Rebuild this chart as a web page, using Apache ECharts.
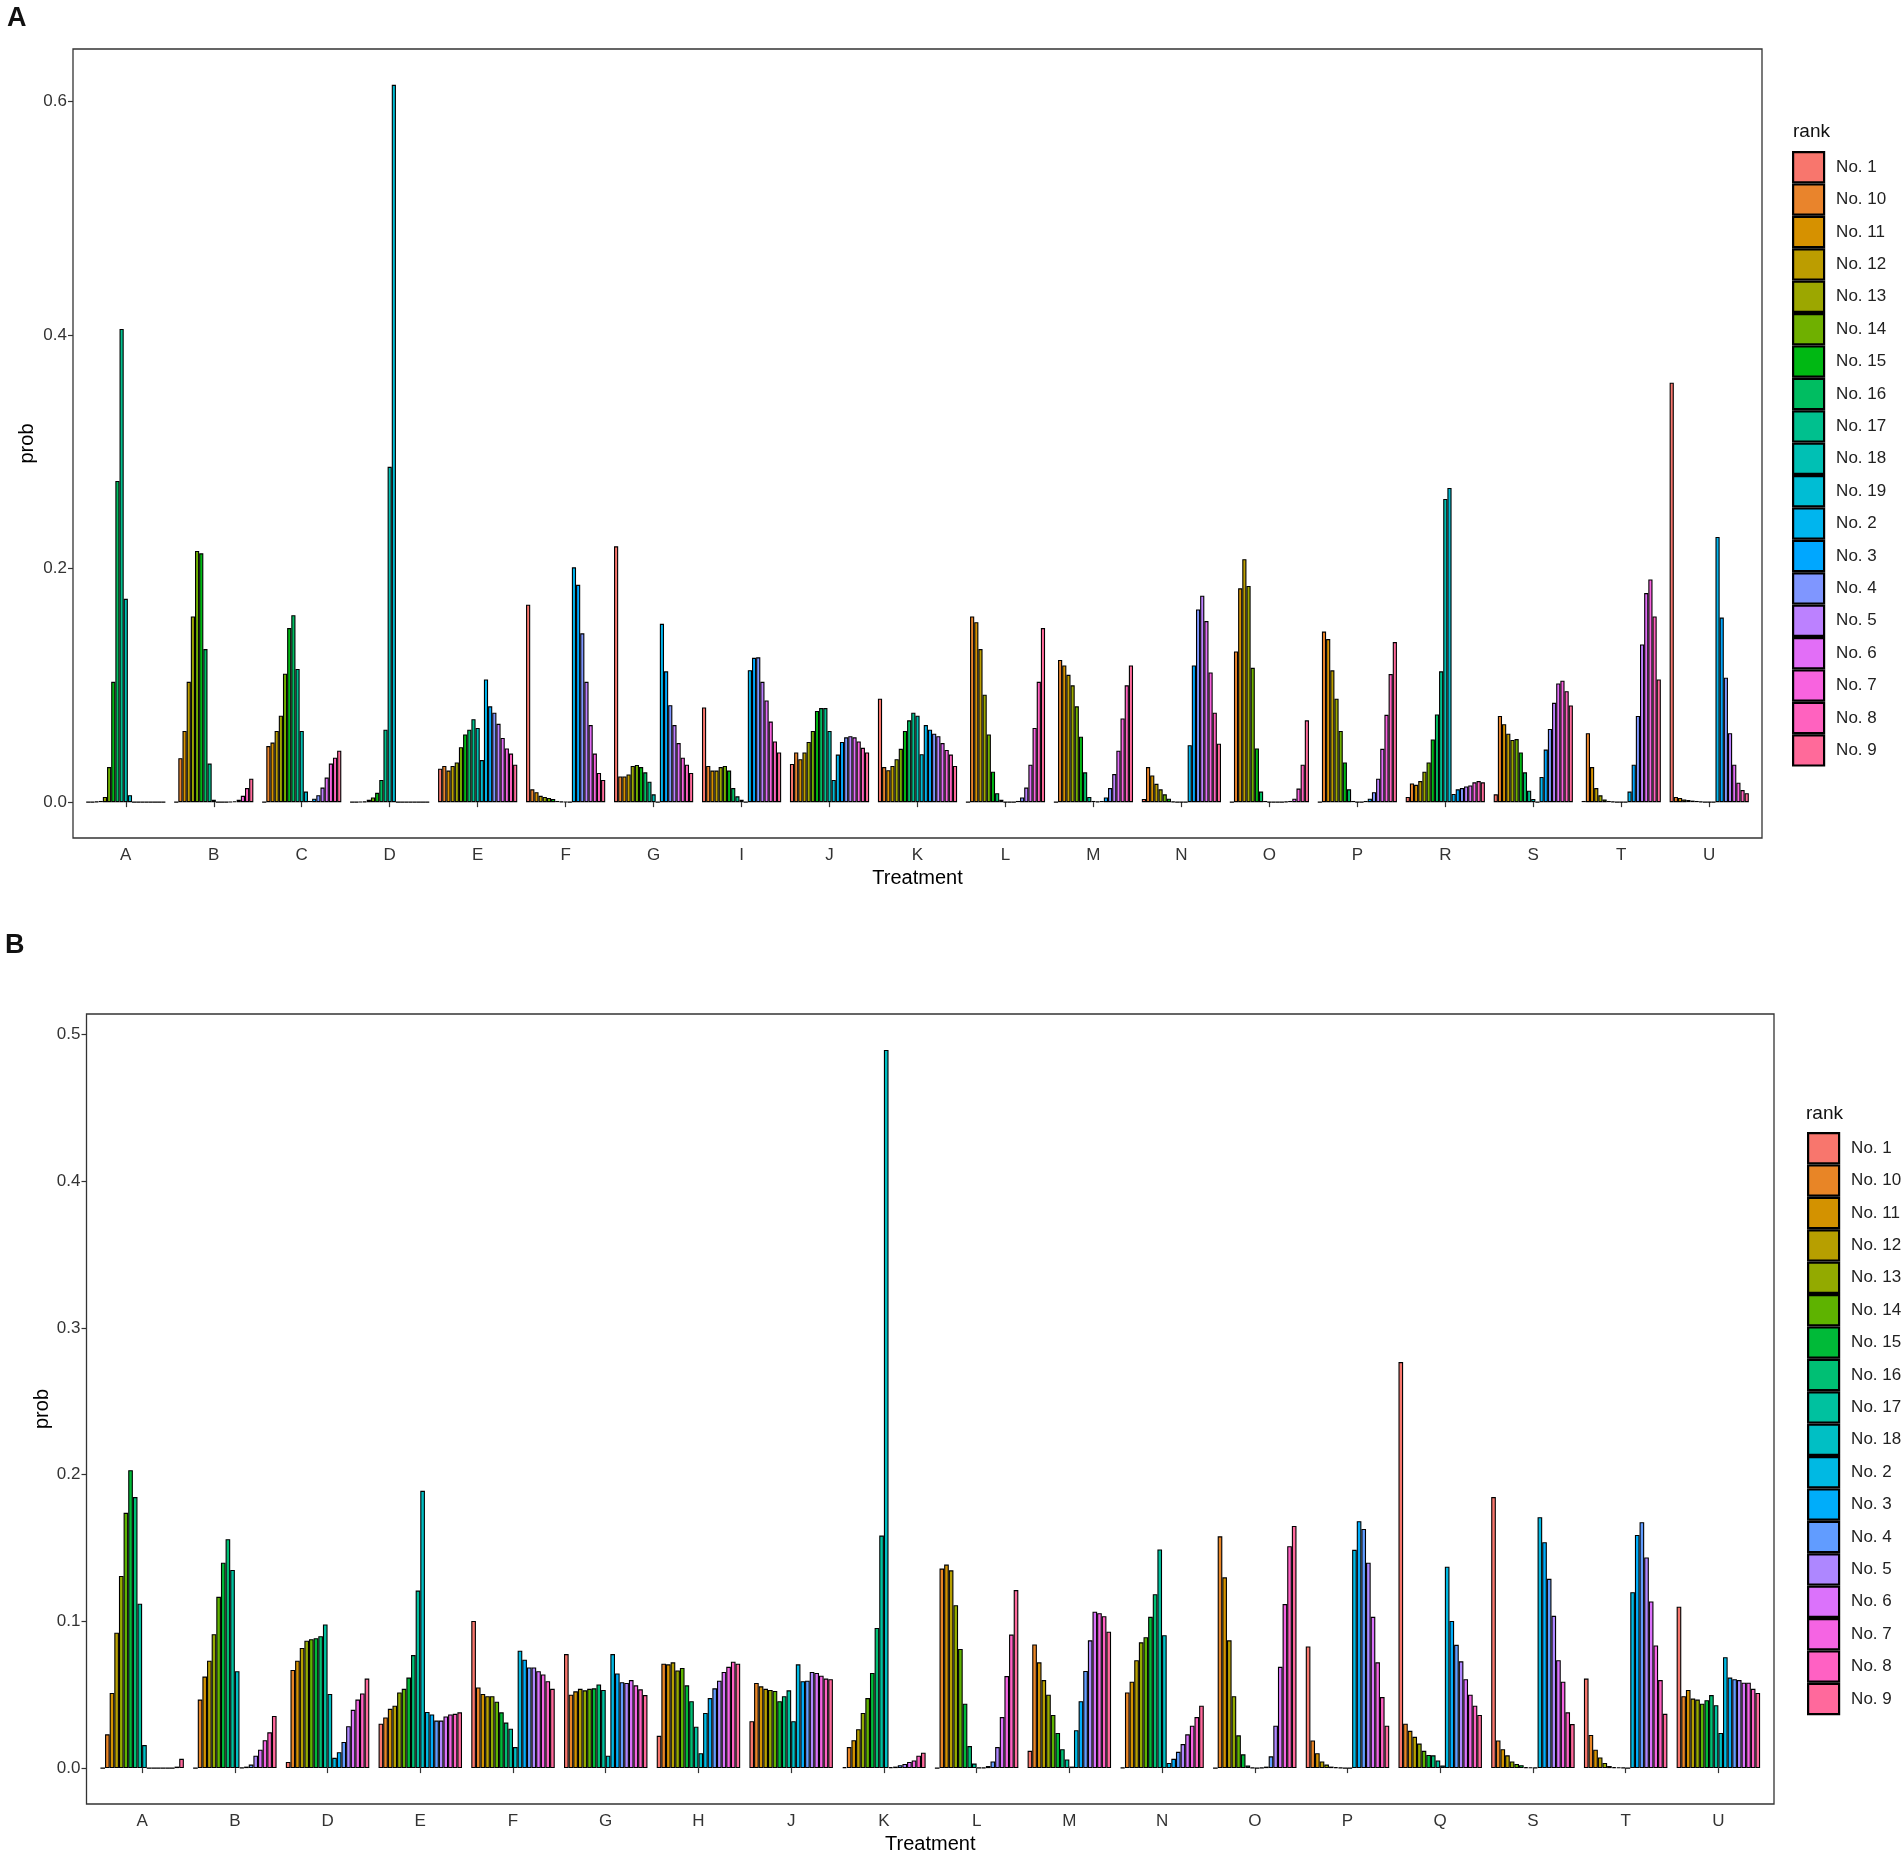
<!DOCTYPE html>
<html>
<head>
<meta charset="utf-8">
<title>Rank probabilities by treatment</title>
<script src="https://cdn.jsdelivr.net/npm/echarts@6/dist/echarts.min.js"></script>
<style>
  html, body { margin: 0; padding: 0; background: #fff; }
  #chart { width: 1902px; height: 1857px; }
</style>
</head>
<body>
<div id="chart"></div>
<script>
// rank levels, in the (alphabetical) order the factor uses
const ranksA = ['No. 1', 'No. 10', 'No. 11', 'No. 12', 'No. 13', 'No. 14', 'No. 15', 'No. 16', 'No. 17', 'No. 18', 'No. 19',
  'No. 2', 'No. 3', 'No. 4', 'No. 5', 'No. 6', 'No. 7', 'No. 8', 'No. 9'];
const ranksB = ['No. 1', 'No. 10', 'No. 11', 'No. 12', 'No. 13', 'No. 14', 'No. 15', 'No. 16', 'No. 17', 'No. 18',
  'No. 2', 'No. 3', 'No. 4', 'No. 5', 'No. 6', 'No. 7', 'No. 8', 'No. 9'];

const treatmentsA = ['A', 'B', 'C', 'D', 'E', 'F', 'G', 'I', 'J', 'K', 'L', 'M', 'N', 'O', 'P', 'R', 'S', 'T', 'U'];
const treatmentsB = ['A', 'B', 'D', 'E', 'F', 'G', 'H', 'J', 'K', 'L', 'M', 'N', 'O', 'P', 'Q', 'S', 'T', 'U'];

const ticksA = [0, 0.2, 0.4, 0.6];
const ticksB = [0, 0.1, 0.2, 0.3, 0.4, 0.5];

/* ------------------------- panel A : prob per rank ------------------------- */
const a_A = [0, 0, 0.0005, 0.001, 0.0045, 0.030, 0.103, 0.275, 0.405, 0.174, 0.006, 0, 0, 0, 0, 0, 0, 0, 0];
const a_B = [0, 0.0376, 0.061, 0.103, 0.159, 0.215, 0.213, 0.131, 0.033, 0.002, 0, 0, 0, 0.0003, 0.0007, 0.002, 0.0054, 0.012, 0.020];
const a_C = [0, 0.048, 0.051, 0.061, 0.074, 0.110, 0.149, 0.160, 0.114, 0.061, 0.009, 0.001, 0.003, 0.006, 0.0125, 0.021, 0.033, 0.038, 0.044];
const a_D = [0, 0, 0.0003, 0.0005, 0.002, 0.004, 0.008, 0.019, 0.062, 0.287, 0.614, 0, 0, 0, 0, 0, 0, 0, 0];
const a_E = [0.0286, 0.031, 0.027, 0.031, 0.034, 0.047, 0.058, 0.062, 0.071, 0.0635, 0.036, 0.105, 0.082, 0.0765, 0.067, 0.055, 0.046, 0.0416, 0.032];
const a_F = [0.169, 0.011, 0.0085, 0.0054, 0.0045, 0.0036, 0.0027, 0.001, 0.0005, 0.0003, 0, 0.201, 0.186, 0.1445, 0.103, 0.066, 0.0416, 0.025, 0.019];
const a_G = [0.219, 0.022, 0.022, 0.0237, 0.031, 0.0318, 0.030, 0.0255, 0.0175, 0.0067, 0, 0.1526, 0.112, 0.083, 0.066, 0.0506, 0.038, 0.032, 0.025];
const a_I = [0.081, 0.031, 0.027, 0.027, 0.030, 0.031, 0.027, 0.012, 0.005, 0.002, 0, 0.113, 0.1235, 0.124, 0.103, 0.087, 0.069, 0.052, 0.0425];
const a_J = [0.0327, 0.0425, 0.0367, 0.0425, 0.0515, 0.061, 0.078, 0.0805, 0.0805, 0.061, 0.019, 0.0407, 0.0515, 0.0555, 0.0564, 0.0555, 0.052, 0.0465, 0.0425];
const a_K = [0.0886, 0.030, 0.0273, 0.031, 0.0367, 0.0456, 0.061, 0.070, 0.0765, 0.074, 0.041, 0.066, 0.062, 0.0586, 0.0564, 0.0506, 0.0447, 0.0407, 0.031];
const a_L = [0, 0.159, 0.154, 0.131, 0.092, 0.058, 0.026, 0.0076, 0.002, 0, 0, 0, 0.001, 0.004, 0.0125, 0.032, 0.0635, 0.103, 0.149];
const a_M = [0, 0.1217, 0.117, 0.109, 0.100, 0.082, 0.056, 0.0255, 0.0045, 0.001, 0.0005, 0.001, 0.004, 0.012, 0.024, 0.044, 0.0716, 0.100, 0.117];
const a_N = [0.0027, 0.030, 0.0228, 0.0157, 0.011, 0.0067, 0.003, 0.0005, 0, 0, 0, 0.0488, 0.117, 0.165, 0.1767, 0.155, 0.111, 0.0765, 0.050];
const a_O = [0, 0.129, 0.183, 0.208, 0.185, 0.115, 0.046, 0.009, 0.001, 0, 0, 0, 0, 0.0005, 0.001, 0.003, 0.0116, 0.032, 0.070];
const a_P = [0, 0.146, 0.1396, 0.1128, 0.0886, 0.061, 0.034, 0.011, 0.001, 0, 0, 0.001, 0.003, 0.0085, 0.020, 0.0456, 0.0747, 0.1096, 0.137];
const a_R = [0.0045, 0.016, 0.0148, 0.018, 0.026, 0.034, 0.0537, 0.075, 0.112, 0.2595, 0.269, 0.007, 0.011, 0.012, 0.0134, 0.0143, 0.017, 0.018, 0.017];
const a_S = [0.0067, 0.0738, 0.0667, 0.0586, 0.0532, 0.054, 0.0425, 0.0255, 0.0098, 0.0027, 0, 0.0215, 0.045, 0.0626, 0.085, 0.1016, 0.104, 0.095, 0.0828];
const a_T = [0.001, 0.059, 0.030, 0.012, 0.0058, 0.0022, 0.001, 0.0005, 0, 0, 0, 0.009, 0.032, 0.0738, 0.135, 0.179, 0.1906, 0.159, 0.105];
const a_U = [0.359, 0.0045, 0.0036, 0.0022, 0.0018, 0.0013, 0.001, 0.0005, 0, 0, 0, 0.227, 0.158, 0.1065, 0.059, 0.032, 0.0166, 0.0103, 0.0076];

/* ------------------------- panel B : prob per rank ------------------------- */
const b_A = [0, 0.023, 0.0512, 0.0923, 0.131, 0.174, 0.203, 0.1847, 0.112, 0.0157, 0, 0, 0, 0, 0, 0, 0.001, 0.0063];
const b_B = [0, 0.0467, 0.0624, 0.0732, 0.0913, 0.1167, 0.140, 0.156, 0.135, 0.066, 0.0003, 0.001, 0.0024, 0.0084, 0.0125, 0.019, 0.0244, 0.0355];
const b_D = [0.0042, 0.0669, 0.0732, 0.0819, 0.0868, 0.0878, 0.0885, 0.0899, 0.0979, 0.0505, 0.007, 0.0108, 0.0178, 0.0286, 0.0397, 0.0467, 0.0509, 0.061];
const b_E = [0.0303, 0.0345, 0.0404, 0.0425, 0.0516, 0.054, 0.0617, 0.077, 0.121, 0.189, 0.0383, 0.0366, 0.0324, 0.0324, 0.0352, 0.0366, 0.037, 0.038];
const b_F = [0.1003, 0.055, 0.0505, 0.049, 0.049, 0.0453, 0.038, 0.031, 0.0268, 0.0143, 0.080, 0.0739, 0.0686, 0.0686, 0.066, 0.0638, 0.0592, 0.054];
const b_G = [0.0777, 0.050, 0.0523, 0.054, 0.053, 0.054, 0.0544, 0.057, 0.0533, 0.0084, 0.0777, 0.0645, 0.0585, 0.058, 0.060, 0.0564, 0.0537, 0.0498];
const b_H = [0.022, 0.0711, 0.0707, 0.0721, 0.0666, 0.0683, 0.0564, 0.0456, 0.0282, 0.0101, 0.0376, 0.0477, 0.0544, 0.0596, 0.0655, 0.069, 0.0725, 0.0711];
const b_J = [0.032, 0.058, 0.0557, 0.054, 0.0533, 0.0526, 0.0456, 0.049, 0.053, 0.032, 0.0707, 0.0592, 0.0596, 0.0655, 0.0648, 0.063, 0.061, 0.0606];
const b_K = [0.0007, 0.0143, 0.019, 0.0265, 0.0376, 0.0477, 0.0648, 0.0955, 0.1585, 0.4895, 0.0007, 0.001, 0.002, 0.0028, 0.0042, 0.0052, 0.0084, 0.0105];
const b_L = [0, 0.136, 0.1387, 0.1348, 0.111, 0.0812, 0.0439, 0.015, 0.0031, 0.0003, 0.0003, 0.0014, 0.0045, 0.0143, 0.0348, 0.0627, 0.091, 0.1213];
const b_M = [0.0118, 0.0843, 0.0721, 0.060, 0.050, 0.0362, 0.024, 0.0129, 0.0059, 0.001, 0.0258, 0.0456, 0.0662, 0.0871, 0.1066, 0.1056, 0.1035, 0.093];
const b_N = [0.0003, 0.0516, 0.0589, 0.0735, 0.0857, 0.0892, 0.1031, 0.1185, 0.149, 0.0906, 0.0035, 0.0063, 0.0111, 0.0164, 0.023, 0.0289, 0.0348, 0.0425];
const b_O = [0, 0.158, 0.130, 0.0871, 0.049, 0.0223, 0.0094, 0.0017, 0.0003, 0, 0.0003, 0.001, 0.008, 0.0289, 0.069, 0.1118, 0.1512, 0.165];
const b_P = [0.0829, 0.0188, 0.0101, 0.0045, 0.0024, 0.001, 0.0007, 0.0003, 0, 0, 0.1488, 0.1683, 0.163, 0.140, 0.1031, 0.0721, 0.0484, 0.0289];
const b_Q = [0.2767, 0.0303, 0.0254, 0.0213, 0.0167, 0.0118, 0.009, 0.0087, 0.0052, 0.0017, 0.1373, 0.1003, 0.084, 0.0728, 0.0606, 0.050, 0.0425, 0.0362];
const b_S = [0.1847, 0.0188, 0.0129, 0.0087, 0.0045, 0.0028, 0.002, 0.0007, 0.0005, 0.0003, 0.171, 0.154, 0.129, 0.1038, 0.0735, 0.0589, 0.038, 0.030];
const b_T = [0.061, 0.0226, 0.0125, 0.0073, 0.0035, 0.0014, 0.0007, 0.0005, 0.0003, 0, 0.1199, 0.1589, 0.1676, 0.1436, 0.1136, 0.0836, 0.060, 0.037];
const b_U = [0.110, 0.049, 0.0533, 0.0474, 0.0467, 0.0439, 0.0463, 0.0498, 0.0429, 0.024, 0.0756, 0.0617, 0.0606, 0.060, 0.0582, 0.0582, 0.054, 0.0512];

const rowsA = [a_A, a_B, a_C, a_D, a_E, a_F, a_G, a_I, a_J, a_K, a_L, a_M, a_N, a_O, a_P, a_R, a_S, a_T, a_U];
const rowsB = [b_A, b_B, b_D, b_E, b_F, b_G, b_H, b_J, b_K, b_L, b_M, b_N, b_O, b_P, b_Q, b_S, b_T, b_U];

/* -------------------------------------------------------------------------- */
/*                                   Helpers                                  */
/* -------------------------------------------------------------------------- */
const FONT = '"Liberation Sans", Arial, sans-serif';
const PREFIX_B = 'B|';

// polar Luv -> sRGB, same as R's hcl()
function hclHex(h, c, l) {
  const hr = (h * Math.PI) / 180;
  const U = c * Math.cos(hr);
  const V = c * Math.sin(hr);
  const Xn = 95.047, Yn = 100, Zn = 108.883;
  const un = (4 * Xn) / (Xn + 15 * Yn + 3 * Zn);
  const vn = (9 * Yn) / (Xn + 15 * Yn + 3 * Zn);
  const Y = Yn * (l > 8 ? Math.pow((l + 16) / 116, 3) : l / 903.3);
  const u = U / (13 * l) + un;
  const v = V / (13 * l) + vn;
  const X = (Y * 9 * u) / (4 * v);
  const Z = (Y * (12 - 3 * u - 20 * v)) / (4 * v);
  const x = X / 100, y = Y / 100, z = Z / 100;
  const lin = [
    3.240479 * x - 1.53715 * y - 0.498535 * z,
    -0.969256 * x + 1.875992 * y + 0.041556 * z,
    0.055648 * x - 0.204043 * y + 1.057311 * z
  ];
  return '#' + lin.map(t => {
    const g = t <= 0.0031308 ? 12.92 * t : 1.055 * Math.pow(t, 1 / 2.4) - 0.055;
    return Math.round(255 * Math.min(1, Math.max(0, g))).toString(16).padStart(2, '0');
  }).join('');
}
const huePalette = n => Array.from({ length: n }, (_, i) => hclHex(15 + (360 * i) / n, 100, 65));

// plot boxes (ggplot panel borders) and the category grid inside them
const boxA = { x0: 73, x1: 1762, y0: 49, y1: 838 };
const boxB = { x0: 86.5, x1: 1774, y0: 1014, y1: 1804 };
const gridFor = (box, n) => {
  const unit = (box.x1 - box.x0) / (n - 1 + 1.2);
  return { left: box.x0 + 0.1 * unit, width: n * unit, top: box.y0, height: box.y1 - box.y0, inset: 0.1 * unit };
};
const gA = gridFor(boxA, treatmentsA.length);
const gB = gridFor(boxB, treatmentsB.length);

const maxA = Math.max(...rowsA.flat());
const maxB = Math.max(...rowsB.flat());

const buildSeries = (ranks, rows, axis, colors, prefix) =>
  ranks.map((rank, r) => ({
    type: 'bar',
    name: prefix + rank,
    xAxisIndex: axis,
    yAxisIndex: axis,
    data: rows.map(row => row[r]),
    barGap: '0%',
    barCategoryGap: '10%',
    itemStyle: { color: colors[r], borderColor: '#000', borderWidth: 1.1 },
    emphasis: { disabled: true }
  }));

const xAxisFor = (data, gridIndex) => ({
  type: 'category',
  gridIndex,
  data,
  name: 'Treatment',
  nameLocation: 'middle',
  nameGap: 30,
  nameMoveOverlap: false,
  nameTextStyle: { fontSize: 20, color: '#000', fontFamily: FONT },
  axisLine: { show: false },
  axisTick: { show: true, alignWithLabel: true, length: 5, lineStyle: { color: '#333', width: 1.2 } },
  axisLabel: { fontSize: 17, color: '#333', margin: 9, fontFamily: FONT },
  splitLine: { show: false }
});

const yAxisFor = (gridIndex, max, ticks, offset, nameGap) => ({
  type: 'value',
  gridIndex,
  min: -0.05 * max,
  max: 1.05 * max,
  offset,
  name: 'prob',
  nameLocation: 'middle',
  nameRotate: 90,
  nameGap,
  nameMoveOverlap: false,
  nameTextStyle: { fontSize: 20, color: '#000', fontFamily: FONT },
  axisLine: { show: false },
  axisTick: { show: true, length: 5, customValues: ticks, lineStyle: { color: '#333', width: 1.2 } },
  axisLabel: {
    fontSize: 17,
    color: '#333',
    margin: 6,
    fontFamily: FONT,
    customValues: ticks,
    formatter: v => v.toFixed(1)
  },
  splitLine: { show: false }
});

const legendFor = (names, left, top, formatter) => ({
  data: names,
  orient: 'vertical',
  left,
  top,
  padding: 0,
  icon: 'rect',
  itemWidth: 31,
  itemHeight: 30.2,
  itemGap: 0,
  selectedMode: false,
  itemStyle: { borderColor: '#000', borderWidth: 2.2 },
  textStyle: { fontSize: 17, color: '#222', fontFamily: FONT, padding: [0, 0, 0, 7] },
  formatter
});

const frame = box => ({
  type: 'rect',
  shape: { x: box.x0, y: box.y0, width: box.x1 - box.x0, height: box.y1 - box.y0 },
  style: { fill: 'none', stroke: '#333', lineWidth: 1.3 },
  z: 10
});

const titleText = (text, left, top, size, weight) => ({
  text, left, top, padding: 0,
  textStyle: { fontSize: size, fontWeight: weight, color: '#111', fontFamily: FONT }
});

/* -------------------------------------------------------------------------- */
/*                                    Chart                                   */
/* -------------------------------------------------------------------------- */
const chart = echarts.init(document.getElementById('chart'));

chart.setOption({
  animation: false,
  backgroundColor: '#fff',
  textStyle: { fontFamily: FONT },
  title: [
    titleText('A', 7, 5, 27, 'bold'),
    titleText('B', 5, 932, 27, 'bold'),
    titleText('rank', 1793, 122, 19, 'normal'),
    titleText('rank', 1806, 1104, 19, 'normal')
  ],
  grid: [
    { left: gA.left, top: gA.top, width: gA.width, height: gA.height },
    { left: gB.left, top: gB.top, width: gB.width, height: gB.height }
  ],
  xAxis: [xAxisFor(treatmentsA, 0), xAxisFor(treatmentsB, 1)],
  yAxis: [yAxisFor(0, maxA, ticksA, gA.inset, 36), yAxisFor(1, maxB, ticksB, gB.inset, 34)],
  legend: [
    legendFor(ranksA, 1792, 151),
    legendFor(ranksB.map(r => PREFIX_B + r), 1807, 1132, name => name.replace(PREFIX_B, ''))
  ],
  series: [
    ...buildSeries(ranksA, rowsA, 0, huePalette(ranksA.length), ''),
    ...buildSeries(ranksB, rowsB, 1, huePalette(ranksB.length), PREFIX_B)
  ],
  graphic: [frame(boxA), frame(boxB)]
});
</script>
</body>
</html>
